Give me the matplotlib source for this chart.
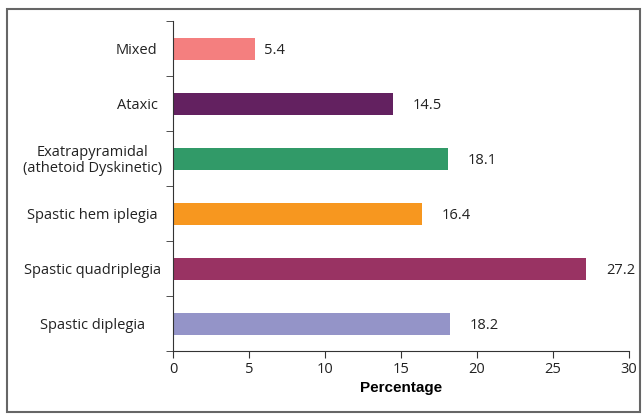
import numpy as np
import matplotlib.pyplot as plt
from matplotlib.patches import Rectangle

categories = ['Spastic diplegia', 'Spastic quadriplegia', 'Spastic hem iplegia',
              'Exatrapyramidal\n(athetoid Dyskinetic)', 'Ataxic', 'Mixed']
values = [18.2, 27.2, 16.4, 18.1, 14.5, 5.4]
colors = ['#9494C8', '#993363', '#F7971F', '#319A68', '#632160', '#F47F7F']
xticks = [0, 5, 10, 15, 20, 25, 30]

plt.rcParams['font.family'] = ['Open Sans', 'DejaVu Sans']

fig = plt.figure(figsize=(6.44, 4.16), dpi=100)
ax = fig.add_axes([0.2686, 0.1562, 0.7081, 0.7933])

y = np.arange(len(categories))
ax.barh(y, values, height=0.4, color=colors)
for yi, v in zip(y, values):
    off = 0.6 if v < 10 else 1.3
    ax.annotate(f'{v}', (v + off, yi), xytext=(0, -1.2), textcoords='offset points',
                va='center', ha='left', fontsize=10.5, color='#222222')

ax.set_xlim(0, 30)
ax.set_ylim(-0.5, len(categories) - 0.5)
ax.set_xticks(xticks)
ax.set_xticklabels([str(t) for t in xticks], fontsize=10.5, color='#222222')

# category names drawn by hand: long ones centred, short ones flush right
ax.set_yticks([])
tr = ax.get_yaxis_transform()
for yi, name in zip(y, categories):
    if name in ('Mixed', 'Ataxic'):
        ax.annotate(name, (0, yi), xycoords=tr, xytext=(-11, -1.2), textcoords='offset points',
                    ha='right', va='center', fontsize=10.5, color='#222222')
    else:
        ax.annotate(name, (0, yi), xycoords=tr, xytext=(-58, -1.2), textcoords='offset points',
                    ha='center', va='center', fontsize=10.5, color='#222222',
                    multialignment='center', linespacing=1.1)

ax.set_yticks(np.arange(-0.5, len(categories)), minor=True)
ax.tick_params(axis='y', which='minor', length=5, direction='out', color='#333333')
ax.tick_params(axis='x', length=5, color='#333333', pad=3)
ax.set_xlabel('Percentage', fontsize=11, fontweight='bold', family='Liberation Sans', labelpad=3)

for s in ['top', 'right']:
    ax.spines[s].set_visible(False)
for s in ['left', 'bottom']:
    ax.spines[s].set_color('#333333')

fig.patches.append(Rectangle((7 / 644, 4 / 416), 633 / 644, 403 / 416, transform=fig.transFigure,
                             fill=False, edgecolor='#666666', linewidth=1.5))

fig.savefig('out.png', dpi=100)
